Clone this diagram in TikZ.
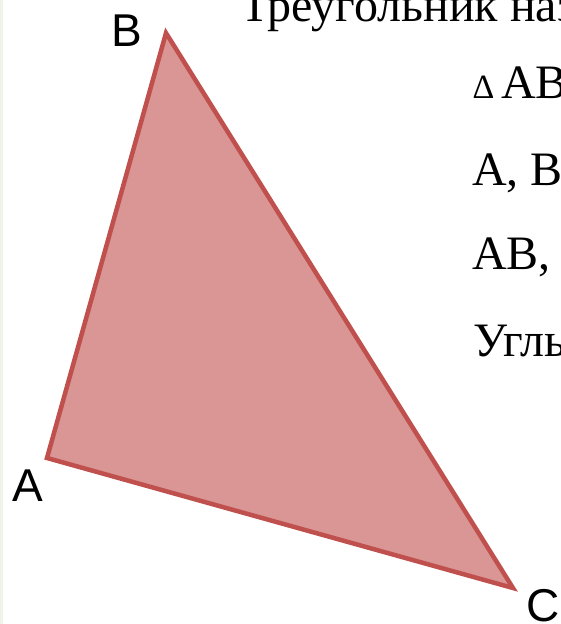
\documentclass[tikz,border=0pt]{standalone}
\usepackage{fontspec}
\setmainfont{Liberation Serif}
\newfontfamily\labelfont{Liberation Sans}
\definecolor{edgered}{RGB}{192,80,77}
\definecolor{fillred}{RGB}{217,150,148}
\definecolor{faintgreen}{RGB}{238,245,230}
\begin{document}
\begin{tikzpicture}[x=1pt,y=-1pt,
  tri/.style={draw=edgered,fill=fillred,line width=4.5pt,line join=miter},
  vlabel/.style={font=\labelfont\fontsize{46}{46}\selectfont,inner sep=0pt,anchor=base},
  textline/.style={font=\fontsize{48}{48}\selectfont,inner sep=0pt,anchor=base west}]
\useasboundingbox (0,0) rectangle (560,624);
\clip (0,0) rectangle (560,624);
\fill[white] (0,0) rectangle (560,624);
\fill[faintgreen] (0,0) rectangle (2.5,624);
% triangle
\coordinate (A) at (47,458);
\coordinate (B) at (166,33);
\coordinate (C) at (513,588);
\draw[tri] (A) -- (B) -- (C) -- cycle;
% vertex labels
\node[vlabel] (lb) at (126.5,46) {B};
\node[vlabel] (la) at (27.5,501) {A};
\node[vlabel] (lc) at (543,621) {C};
% text on the right
\node[textline] (t1) at (240,21) {Треугольник наз};
\node[font=\fontsize{34}{34}\selectfont,inner sep=0pt,anchor=base west] (t2a) at (473,98) {∆};
\node[textline] (t2) at (501,98) {AB};
\node[textline] (t3) at (472,185) {A, B};
\node[textline] (t4) at (472,269) {AB,};
\node[textline] (t5) at (473,356) {Углы};
\end{tikzpicture}
\end{document}
